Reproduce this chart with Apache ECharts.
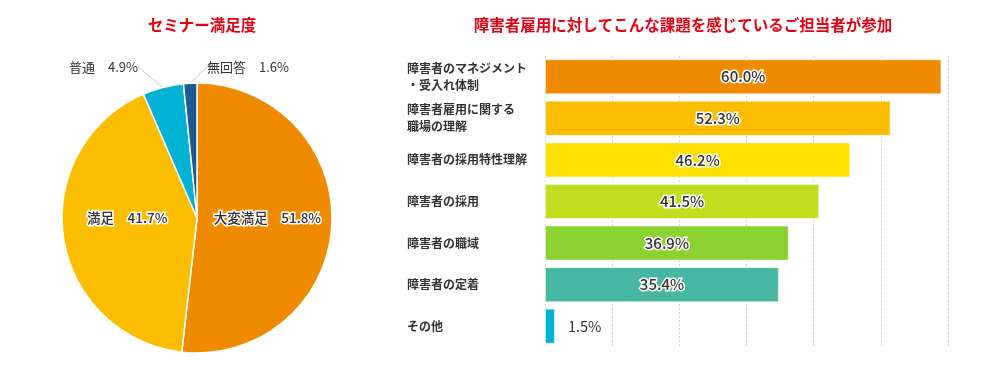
<!DOCTYPE html>
<html>
<head>
<meta charset="utf-8">
<script src="https://cdn.jsdelivr.net/npm/echarts@6/dist/echarts.min.js"></script>
<style>
html,body{margin:0;padding:0;background:#fff;}
#c{width:1000px;height:374px;}
</style>
</head>
<body>
<div id="c"></div>
<script>
// ---- data ----
const pieTitle = 'セミナー満足度';
const pieNames = ['大変満足', '満足', '普通', '無回答'];
const pieValues = [51.8, 41.7, 4.9, 1.6];
const pieColors = ['#f08b00', '#fbbd00', '#00b2d3', '#1f5b93'];

const barTitle = '障害者雇用に対してこんな課題を感じているご担当者が参加';
const barCategories = [
  '障害者のマネジメント\n・受入れ体制',
  '障害者雇用に関する\n職場の理解',
  '障害者の採用特性理解',
  '障害者の採用',
  '障害者の職域',
  '障害者の定着',
  'その他'
];
const barValues = [60.0, 52.3, 46.2, 41.5, 36.9, 35.4, 1.5];
const barColors = ['#f08b00', '#fbbd00', '#fde000', '#c3de1f', '#8bd12f', '#48b7a1', '#00b2d3'];

const FONT = '"Noto Sans CJK JP", "Noto Sans", sans-serif';

const chart = echarts.init(document.getElementById('c'), null, {renderer: 'canvas'});

const pieData = pieNames.map((n, i) => ({
  name: n,
  value: pieValues[i],
  itemStyle: {color: pieColors[i]},
  label: i < 2 ? {
    position: 'inside',
    color: '#333',
    fontSize: 13.5,
    fontWeight: 500,
    textBorderColor: '#fff',
    textBorderWidth: 3
  } : {
    position: 'outside',
    color: '#333',
    fontSize: 13
  },
  labelLine: {show: i >= 2}
}));

const barData = barValues.map((v, i) => ({
  value: v,
  itemStyle: {color: barColors[i]},
  label: v < 5 ? {
    position: 'right',
    distance: 13,
    color: '#333',
    fontSize: 14.5,
    fontWeight: 'normal',
    textBorderWidth: 0
  } : {}
}));

const option = {
  animation: false,
  backgroundColor: '#fff',
  textStyle: {fontFamily: FONT},
  title: [
    {
      text: pieTitle,
      left: 197, top: 12, textAlign: 'center',
      textStyle: {color: '#e60012', fontSize: 15.5, fontWeight: 'bold', fontFamily: FONT}
    },
    {
      text: barTitle,
      left: 678, top: 12, textAlign: 'center',
      textStyle: {color: '#e60012', fontSize: 15.5, fontWeight: 'bold', fontFamily: FONT}
    }
  ],
  grid: {left: 545, top: 56, width: 403, height: 291, containLabel: false},
  xAxis: [
    {
      type: 'value', min: 0, max: 61, show: false,
      splitLine: {show: false}
    },
    {
      type: 'value', min: 0, max: 60, interval: 10,
      axisLine: {show: false}, axisTick: {show: false}, axisLabel: {show: false},
      splitLine: {show: true, lineStyle: {color: '#d4d4d4', type: [2, 2], width: 1}}
    }
  ],
  yAxis: {
    type: 'category',
    data: barCategories,
    inverse: true,
    axisLine: {show: false},
    axisTick: {show: false},
    axisLabel: {
      align: 'left',
      margin: 138,
      color: '#333',
      fontSize: 12,
      fontWeight: 'bold',
      lineHeight: 17,
      fontFamily: FONT
    }
  },
  series: [
    {
      type: 'pie',
      center: [197, 218],
      radius: [0, 135],
      startAngle: 90,
      clockwise: true,
      data: pieData,
      itemStyle: {borderColor: '#fff', borderWidth: 1.5},
      label: {
        formatter: p => p.name + '\u3000' + p.value.toFixed(1) + '%',
        fontFamily: FONT
      },
      labelLine: {length: 18, length2: 0, lineStyle: {color: '#c8c8c8', width: 1}},
      labelLayout: function (p) {
        if (p.dataIndex === 0) {
          return {dy: -4};
        }
        if (p.dataIndex === 1) {
          return {dy: -10};
        }
        if (p.dataIndex === 2) {
          return {x: 138, y: 67, align: 'right', verticalAlign: 'middle'};
        }
        if (p.dataIndex === 3) {
          return {x: 207, y: 67, align: 'left', verticalAlign: 'middle'};
        }
        return {};
      }
    },
    {
      type: 'bar',
      xAxisIndex: 0,
      data: barData,
      barWidth: 35,
      itemStyle: {borderColor: 'rgba(255,255,255,0.45)', borderWidth: 1},
      label: {
        show: true,
        position: 'inside',
        formatter: p => p.value.toFixed(1) + '%',
        color: '#333',
        fontSize: 15,
        fontWeight: 500,
        textBorderColor: '#fff',
        textBorderWidth: 3,
        fontFamily: FONT
      }
    }
  ]
};
chart.setOption(option);
</script>
</body>
</html>
